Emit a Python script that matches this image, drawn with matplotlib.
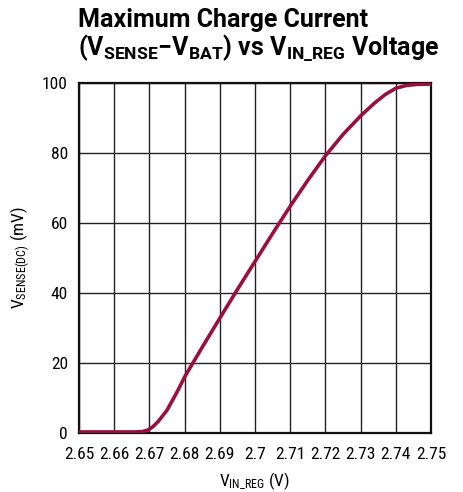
import matplotlib
matplotlib.use('Agg')
import matplotlib.pyplot as plt

# valori
v_in = [2.650, 2.660, 2.666, 2.668, 2.6695, 2.671, 2.6725, 2.675, 2.678, 2.680,
        2.685, 2.690, 2.695, 2.700, 2.705, 2.710, 2.715, 2.720, 2.725, 2.730,
        2.734, 2.737, 2.740, 2.743, 2.746, 2.750]
v_sense = [0.3, 0.3, 0.3, 0.4, 0.8, 1.8, 3.3, 6.5, 12.0, 16.0,
           24.5, 32.8, 41.0, 49.0, 57.0, 64.8, 72.2, 79.2, 85.3, 90.6,
           94.3, 96.7, 98.5, 99.3, 99.6, 99.7]

x_ticks = [2.65, 2.66, 2.67, 2.68, 2.69, 2.70, 2.71, 2.72, 2.73, 2.74, 2.75]
x_labels = ['2.65', '2.66', '2.67', '2.68', '2.69', '2.7', '2.71', '2.72', '2.73', '2.74', '2.75']
y_ticks = [0, 20, 40, 60, 80, 100]

font = 'Roboto Condensed'
tfont = 'Roboto'
plt.rcParams['font.family'] = [font, 'DejaVu Sans']
plt.rcParams['mathtext.fontset'] = 'custom'
plt.rcParams['mathtext.rm'] = font
plt.rcParams['mathtext.it'] = font
plt.rcParams['mathtext.bf'] = tfont + ':bold'

fig = plt.figure(figsize=(4.63, 4.92), dpi=100)
ax = fig.add_axes([79 / 463, 1 - 433 / 492, 352 / 463, 350 / 492])

ax.plot(v_in, v_sense, color='#9b0f3c', lw=2.6, solid_capstyle='round', zorder=3)

ax.set_xlim(2.65, 2.75)
ax.set_ylim(0, 100)
ax.set_xticks(x_ticks)
ax.set_xticklabels(x_labels)
ax.set_yticks(y_ticks)
ax.tick_params(axis='x', length=0, labelsize=12.5, pad=10)
ax.tick_params(axis='y', length=0, labelsize=12.5, pad=8)
ax.grid(True, color='#222222', lw=1.0)
for s in ax.spines.values():
    s.set_linewidth(1.6)
    s.set_color('#111111')

ax.set_xlabel(r'$\mathrm{V_{IN\_REG}}$ (V)', fontsize=12.5, labelpad=6)
ax.set_ylabel(r'$\mathrm{V_{SENSE(DC)}}$ (mV)', fontsize=12.5, labelpad=7)

fig.text(78 / 463, 1 - 20 / 492, 'Maximum Charge Current', fontsize=18,
         family=tfont, fontweight='bold', va='center', ha='left')
fig.text(78 / 463, 1 - 48 / 492,
         r'$\mathbf{(V_{SENSE}{-}V_{BAT})\ vs\ V_{IN\_REG}\ Voltage}$',
         fontsize=18, va='center', ha='left')

fig.savefig('out.png', dpi=100)
